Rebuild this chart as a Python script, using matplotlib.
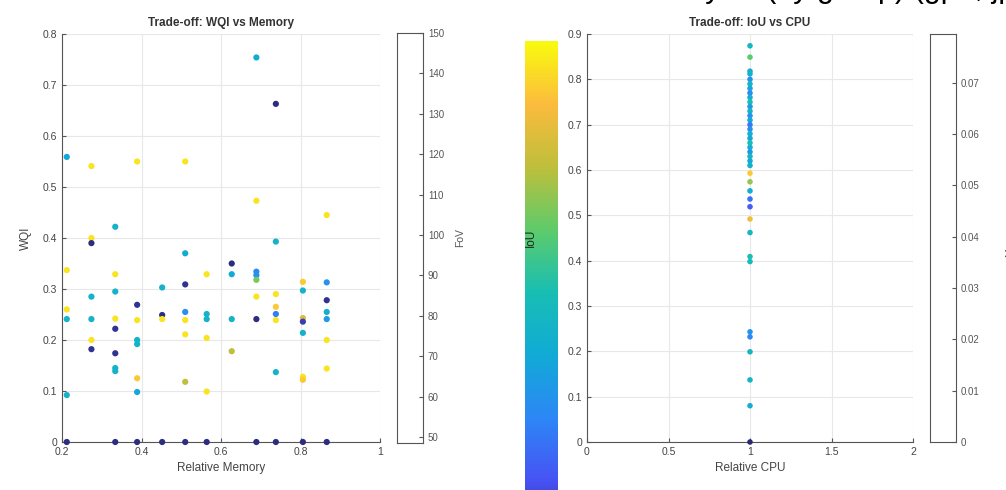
import matplotlib.pyplot as plt
import numpy as np
from matplotlib.colors import LinearSegmentedColormap

# parula-like colormap (MATLAB default), darker navy at the very bottom
parula = LinearSegmentedColormap.from_list('parula', [
    (0.16, 0.16, 0.45), (0.2810, 0.3228, 0.9579), (0.1786, 0.5289, 0.9682),
    (0.0689, 0.6679, 0.8419), (0.0941, 0.7464, 0.7060), (0.3667, 0.7995, 0.4216),
    (0.7456, 0.7497, 0.2338), (0.9871, 0.7353, 0.2420), (0.9763, 0.9831, 0.0538)])

# left panel: WQI vs relative memory, coloured by FoV
mem = [0.212] * 6 + [0.274] * 7 + [0.334] * 9 + [0.389] * 8 + [0.452] * 4 + [0.510] * 8 \
    + [0.564] * 6 + [0.627] * 4 + [0.689] * 8 + [0.738] * 8 + [0.806] * 8 + [0.866] * 8
wqi = [0.559, 0.337, 0.260, 0.241, 0.092, 0.0,
       0.541, 0.400, 0.390, 0.285, 0.241, 0.200, 0.182,
       0.422, 0.329, 0.295, 0.242, 0.222, 0.174, 0.145, 0.139, 0.0,
       0.550, 0.269, 0.239, 0.200, 0.192, 0.125, 0.098, 0.0,
       0.303, 0.249, 0.241, 0.0,
       0.550, 0.370, 0.309, 0.255, 0.239, 0.211, 0.118, 0.0,
       0.329, 0.251, 0.241, 0.204, 0.099, 0.0,
       0.350, 0.329, 0.241, 0.178,
       0.754, 0.473, 0.334, 0.327, 0.318, 0.285, 0.241, 0.0,
       0.663, 0.393, 0.290, 0.265, 0.251, 0.239, 0.137, 0.0,
       0.314, 0.297, 0.243, 0.236, 0.214, 0.128, 0.122, 0.0,
       0.445, 0.313, 0.278, 0.255, 0.241, 0.200, 0.144, 0.0]
fov = [85, 145, 145, 92, 92, 50,
       145, 145, 50, 92, 92, 145, 52,
       92, 145, 92, 145, 52, 52, 92, 92, 50,
       145, 52, 145, 92, 92, 140, 85, 50,
       92, 50, 145, 50,
       145, 88, 52, 78, 145, 145, 125, 50,
       145, 92, 92, 145, 145, 50,
       50, 88, 92, 125,
       88, 145, 75, 78, 115, 145, 50, 50,
       50, 92, 145, 140, 72, 145, 92, 50,
       140, 92, 130, 55, 92, 145, 140, 50,
       145, 78, 52, 90, 80, 145, 145, 50]

# right panel: IoU vs relative CPU
iou = [0.874, 0.849, 0.818, 0.812, 0.800, 0.790, 0.780, 0.770, 0.760, 0.750, 0.740,
       0.730, 0.720, 0.710, 0.700, 0.690, 0.680, 0.670, 0.660, 0.650, 0.640, 0.630,
       0.620, 0.610, 0.593, 0.574, 0.554, 0.536, 0.519, 0.492, 0.462, 0.409, 0.398,
       0.243, 0.232, 0.199, 0.137, 0.080, 0.0]
iou_c = [0.45, 0.62, 0.40, 0.42, 0.30, 0.45, 0.35, 0.28, 0.40, 0.50, 0.32,
         0.45, 0.30, 0.38, 0.22, 0.28, 0.42, 0.35, 0.50, 0.40, 0.32, 0.45,
         0.38, 0.40, 0.90, 0.70, 0.40, 0.20, 0.15, 0.85, 0.45, 0.50, 0.48,
         0.30, 0.25, 0.45, 0.45, 0.40, 0.0]
cpu = [1.0] * len(iou)

W, H = 1006, 490
fig = plt.figure(figsize=(W / 100, H / 100), dpi=100)
plt.rcParams['font.family'] = ['Liberation Sans', 'DejaVu Sans']


def box(x0, y0, x1, y1):
    return [x0 / W, 1 - y1 / H, (x1 - x0) / W, (y1 - y0) / H]


def matlab_axes(ax):
    ax.set_facecolor('white')
    for s in ['top', 'right']:
        ax.spines[s].set_visible(False)
    for s in ['left', 'bottom']:
        ax.spines[s].set_color('#555555')
    ax.tick_params(direction='in', length=3, labelsize=7.5, colors='#555555',
                   labelcolor='#444444')
    ax.grid(True, color='#e8e8e8', linewidth=0.8)
    ax.set_axisbelow(True)


# gradient bar overlapping the right panel (drawn underneath, runs off the bottom)
gax = fig.add_axes(box(525, 41, 558, 545), zorder=0)
gax.imshow(np.linspace(1, 0, 256)[:, None], aspect='auto', cmap=parula,
           extent=[0, 1, 0, 1])
gax.axis('off')

# left scatter
ax1 = fig.add_axes(box(62, 34, 380, 442), zorder=2)
matlab_axes(ax1)
ax1.scatter(mem, wqi, c=fov, cmap=parula, vmin=48.5, vmax=150, s=20,
            linewidths=0, zorder=3, clip_on=False)
ax1.set_xlim(0.2, 1)
ax1.set_ylim(0, 0.8)
ax1.set_xticks([0.2, 0.4, 0.6, 0.8, 1])
ax1.set_xticklabels(['0.2', '0.4', '0.6', '0.8', '1'])
ax1.set_yticks(np.arange(0, 0.81, 0.1))
ax1.set_yticklabels(['0'] + ['%.1f' % v for v in np.arange(0.1, 0.81, 0.1)])
ax1.set_title('Trade-off: WQI vs Memory', fontsize=8.5, fontweight='bold',
              color='#333333', pad=6)
ax1.set_xlabel('Relative Memory', fontsize=8.5, color='#444444', labelpad=4)
ax1.set_ylabel('WQI', fontsize=8.5, color='#444444', labelpad=8)

# left colour bar (empty box)
cb1 = fig.add_axes(box(397, 33, 423, 443), zorder=2)
cb1.set_ylim(48.5, 150)
cb1.set_xticks([])
cb1.set_yticks(range(50, 151, 10))
cb1.yaxis.tick_right()
cb1.yaxis.set_label_position('right')
for s in cb1.spines.values():
    s.set_color('#555555')
cb1.tick_params(direction='in', length=3, labelsize=7, colors='#555555',
                labelcolor='#555555')
cb1.set_ylabel('FoV', fontsize=7.5, color='#555555', labelpad=8)

# right scatter
ax2 = fig.add_axes(box(587, 34, 913, 442), zorder=2)
matlab_axes(ax2)
ax2.scatter(cpu, iou, c=iou_c, cmap=parula, vmin=0, vmax=1, s=16,
            linewidths=0, zorder=3, clip_on=False)
ax2.set_xlim(0, 2)
ax2.set_ylim(0, 0.9)
ax2.set_xticks([0, 0.5, 1, 1.5, 2])
ax2.set_xticklabels(['0', '0.5', '1', '1.5', '2'])
ax2.set_yticks(np.arange(0, 0.91, 0.1))
ax2.set_yticklabels(['0'] + ['%.1f' % v for v in np.arange(0.1, 0.91, 0.1)])
ax2.set_title('Trade-off: IoU vs CPU', fontsize=8.5, fontweight='bold',
              color='#333333', pad=6)
ax2.set_xlabel('Relative CPU', fontsize=8.5, color='#444444', labelpad=4)
ax2.set_ylabel('IoU', fontsize=8.5, color='#1c2a1c', labelpad=22)

# right colour bar (empty box)
cb2 = fig.add_axes(box(930, 34, 956, 442), zorder=2)
cb2.set_ylim(0, 0.0795)
cb2.set_xticks([])
cb2.set_yticks(np.arange(0, 0.071, 0.01))
cb2.set_yticklabels(['0'] + ['%.2f' % v for v in np.arange(0.01, 0.071, 0.01)])
cb2.yaxis.tick_right()
cb2.yaxis.set_label_position('right')
for s in cb2.spines.values():
    s.set_color('#555555')
cb2.tick_params(direction='in', length=3, labelsize=7, colors='#555555',
                labelcolor='#555555')
cb2.set_ylabel('Memory', fontsize=7.5, color='#555555', labelpad=18)

# clipped heading from above the crop (only descenders remain visible)
fig.text(0.775, 1.007, 'Trade-off analysis (by group) (gpu, jpg)', fontsize=22,
         ha='center', va='baseline', color='black')

fig.savefig('out.png', dpi=100)
